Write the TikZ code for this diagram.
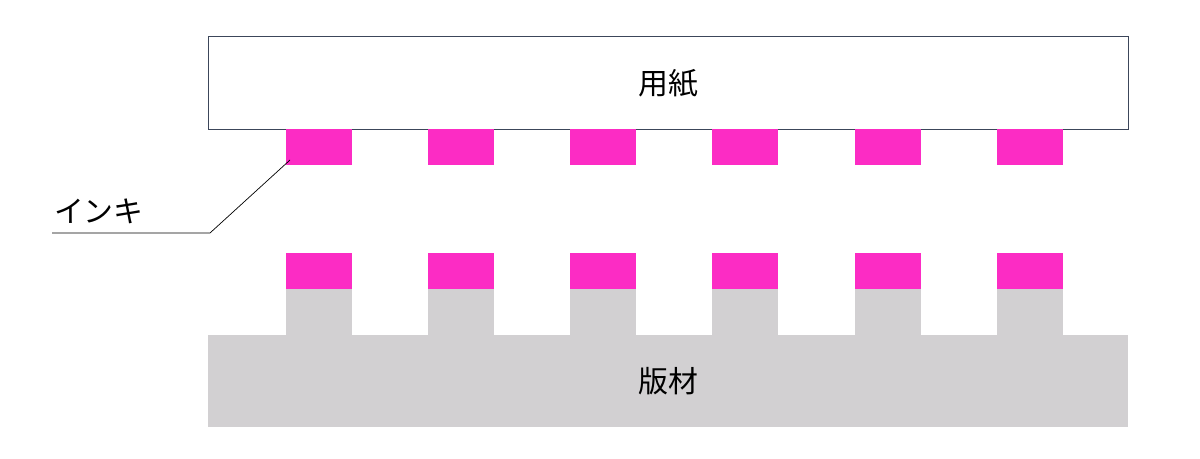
\documentclass[tikz,border=0pt]{standalone}
\usepackage{fontspec}
\newfontfamily\cjk{Noto Sans CJK JP}
\definecolor{ink}{RGB}{252,44,196}
\definecolor{plate}{RGB}{210,208,210}
\definecolor{edge}{RGB}{60,70,90}
\begin{document}
\begin{tikzpicture}[x=0.02cm, y=-0.02cm, every node/.style={font=\cjk\fontsize{17}{20}\selectfont}]
    \useasboundingbox (0,0) rectangle (1200,459);
    % paper and plate
    \draw[edge, thin] (208,36) rectangle (1128,129);
    \node (paper) at (668,83) {用紙};
    \fill[plate] (208,335) rectangle (1128,427);
    \node (plate) at (668,381) {版材};
    % ink dots and relief
    \foreach \x in {286,428,570,712,855,997} {
        \fill[ink] (\x,129) rectangle (\x+66,165);
        \fill[ink] (\x,253) rectangle (\x+66,289);
        \fill[plate] (\x,289) rectangle (\x+66,336);
    }
    % leader
    \coordinate (tip) at (290,160);
    \coordinate (bend) at (210,233);
    \coordinate (tail) at (52,233);
    \draw[black, thin] (tip) -- (bend) -- (tail);
    \node[anchor=south west, inner sep=1pt] (inklabel) at (52,226) {インキ};
\end{tikzpicture}
\end{document}
